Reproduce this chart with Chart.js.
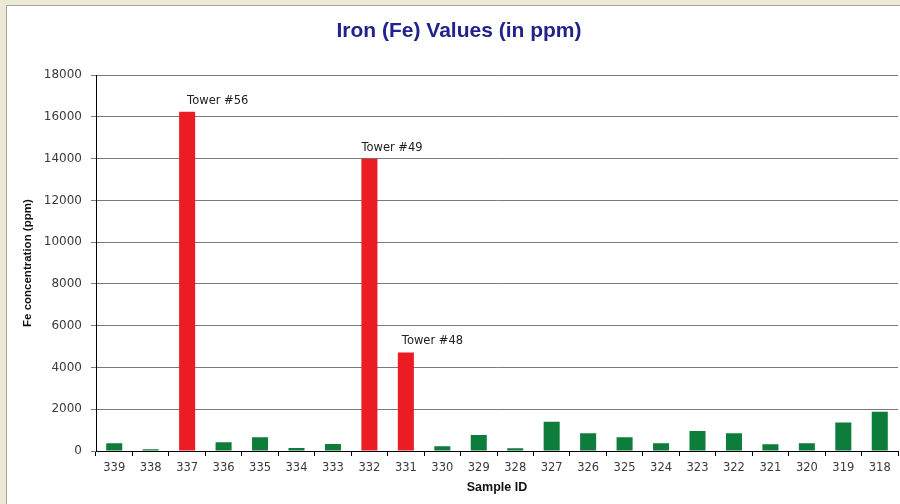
<!DOCTYPE html>
<html>
<head>
<meta charset="utf-8">
<title>Iron (Fe) Values (in ppm)</title>
<script src="https://cdn.jsdelivr.net/npm/chart.js@4.4.1/dist/chart.umd.min.js"></script>
<style>
  html, body { margin: 0; padding: 0; background: #fff; }
</style>
</head>
<body>
<canvas id="graficoFe" width="900" height="504"></canvas>
<script>
// dados
const sampleIds = ['339', '338', '337', '336', '335', '334', '333', '332', '331', '330', '329',
                   '328', '327', '326', '325', '324', '323', '322', '321', '320', '319', '318'];
const feValues = [370, 80, 16250, 415, 655, 145, 335, 14000, 4720, 225, 765,
                  130, 1400, 845, 655, 370, 955, 845, 320, 370, 1370, 1880];
const towerSamples = ['337', '332', '331'];
const towerLabels = ['Tower #56', 'Tower #49', 'Tower #48'];
const yMax = 18000;
const yStep = 2000;

// barras das torres em vermelho, resto em verde
const coresBarras = sampleIds.map(id => towerSamples.includes(id) ? '#ec1c24' : '#0d7d3b');

// moldura bege em volta, como a janela do original
const moldura = {
    id: 'moldura',
    beforeDraw(chart) {
        const ctx = chart.ctx;
        ctx.save();
        ctx.fillStyle = '#ece9d8';
        ctx.fillRect(0, 0, chart.width, chart.height);
        ctx.fillStyle = '#ffffff';
        ctx.fillRect(7, 6, chart.width - 7, chart.height - 6);
        ctx.strokeStyle = '#a7a396';
        ctx.lineWidth = 1;
        ctx.beginPath();
        ctx.moveTo(6.5, chart.height);
        ctx.lineTo(6.5, 5.5);
        ctx.lineTo(chart.width, 5.5);
        ctx.stroke();
        ctx.restore();
    }
};

// textos "Tower #.." em cima das barras vermelhas
const etiquetasTorres = {
    id: 'etiquetasTorres',
    afterDatasetsDraw(chart, args, opts) {
        const meta = chart.getDatasetMeta(0);
        const ctx = chart.ctx;
        ctx.save();
        ctx.font = opts.font;
        ctx.fillStyle = opts.color;
        ctx.textAlign = 'left';
        ctx.textBaseline = 'middle';
        towerSamples.forEach((id, i) => {
            const bar = meta.data[sampleIds.indexOf(id)];
            const x = bar.x - bar.width / 2 + opts.dx[i];
            ctx.fillText(towerLabels[i], x, bar.y - opts.gap);
        });
        ctx.restore();
    }
};

const ctx = document.getElementById('graficoFe').getContext('2d');
const myChart = new Chart(ctx, {
    type: 'bar',
    data: {
        labels: sampleIds,
        datasets: [{
            label: 'Fe (ppm)',
            data: feValues,
            backgroundColor: coresBarras,
            borderWidth: 0,
            barPercentage: 0.44,
            categoryPercentage: 1
        }]
    },
    options: {
        responsive: false,
        animation: false,
        layout: {
            padding: { left: 20, right: 2, top: 8, bottom: 8 }
        },
        plugins: {
            legend: { display: false },
            tooltip: { enabled: false },
            title: {
                display: true,
                text: 'Iron (Fe) Values (in ppm)',
                color: '#22228a',
                font: { family: 'Liberation Sans, Arial, sans-serif', size: 21, weight: 'bold' },
                padding: { top: 11, bottom: 31 }
            },
            etiquetasTorres: {
                font: '11.5px "DejaVu Sans", sans-serif',
                color: '#222',
                dx: [8, 0, 4],
                gap: 11
            }
        },
        scales: {
            x: {
                afterFit(scale) { scale.height = 45; },
                grid: {
                    drawOnChartArea: false,
                    tickLength: 5,
                    color: '#000'
                },
                border: { color: '#000', width: 1 },
                ticks: {
                    color: '#3a3a3a',
                    padding: 5,
                    maxRotation: 0,
                    autoSkip: false,
                    font: { family: 'DejaVu Sans, sans-serif', size: 11.5 }
                },
                title: {
                    display: true,
                    text: 'Sample ID',
                    color: '#111',
                    font: { family: 'Liberation Sans, Arial, sans-serif', size: 12.5, weight: 'bold' },
                    padding: { top: 0, bottom: 1 }
                }
            },
            y: {
                min: 0,
                max: yMax,
                afterFit(scale) { scale.width = 76; },
                grid: {
                    color: '#7a7a7a',
                    tickLength: 5
                },
                border: { color: '#000', width: 1 },
                ticks: {
                    stepSize: yStep,
                    color: '#3a3a3a',
                    padding: 9,
                    font: { family: 'DejaVu Sans, sans-serif', size: 12 },
                    callback: v => v
                },
                title: {
                    display: true,
                    text: 'Fe concentration (ppm)',
                    color: '#111',
                    font: { family: 'Liberation Sans, Arial, sans-serif', size: 11.5, weight: 'bold' },
                    padding: { top: 1, bottom: 0 }
                }
            }
        }
    },
    plugins: [moldura, etiquetasTorres]
});
</script>
</body>
</html>
